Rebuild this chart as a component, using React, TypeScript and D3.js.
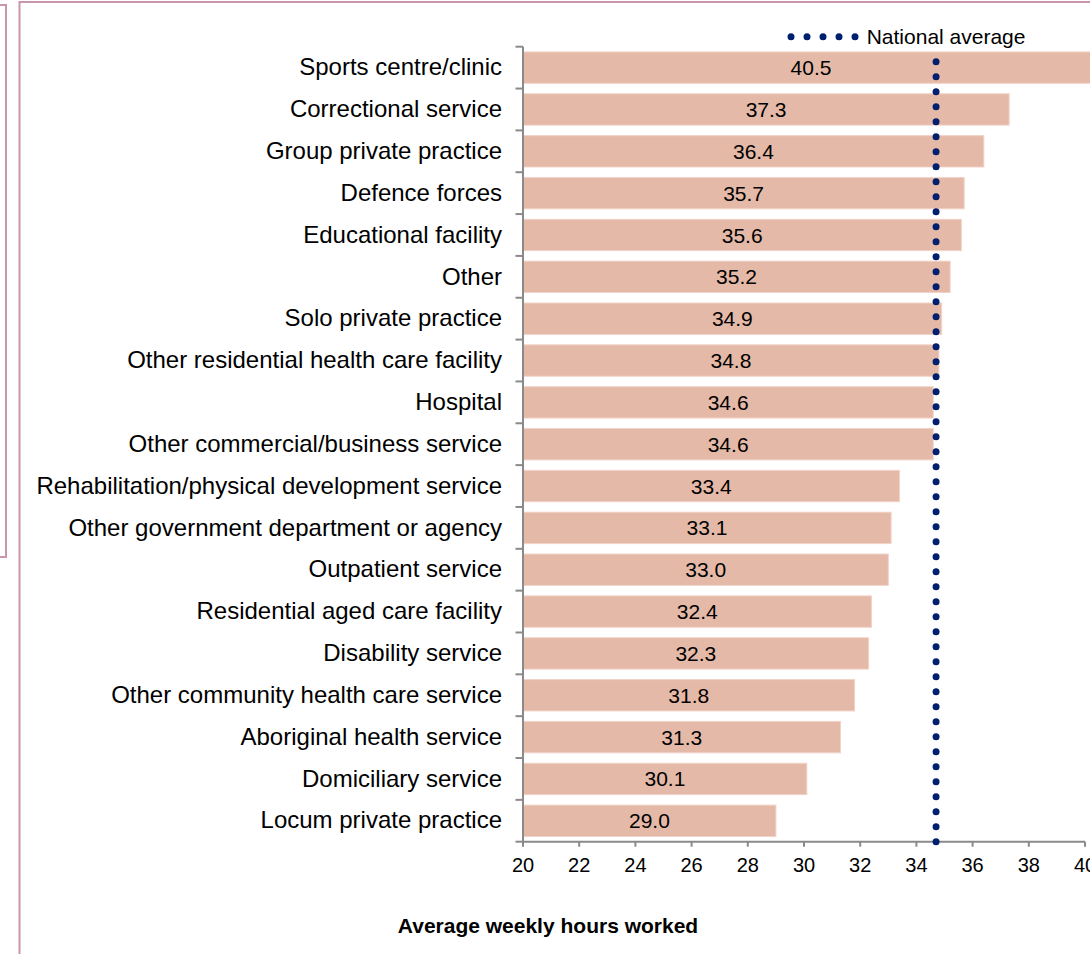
import React from "react";
import * as d3 from "d3";

const categories = [
  "Sports centre/clinic",
  "Correctional service",
  "Group private practice",
  "Defence forces",
  "Educational facility",
  "Other",
  "Solo private practice",
  "Other residential health care facility",
  "Hospital",
  "Other commercial/business service",
  "Rehabilitation/physical development service",
  "Other government department or agency",
  "Outpatient service",
  "Residential aged care facility",
  "Disability service",
  "Other community health care service",
  "Aboriginal health service",
  "Domiciliary service",
  "Locum private practice",
];
const hours = [40.5, 37.3, 36.4, 35.7, 35.6, 35.2, 34.9, 34.8, 34.6, 34.6, 33.4, 33.1, 33.0, 32.4, 32.3, 31.8, 31.3, 30.1, 29.0];
const nationalAverage = 34.7;
const xTicks = [20, 22, 24, 26, 28, 30, 32, 34, 36, 38, 40];
const legendLabel = "National average";
const axisTitle = "Average weekly hours worked";

const W = 1090;
const H = 954;
const FONT = "'Liberation Sans', Arial, sans-serif";

export default function App() {
  const x = d3.scaleLinear().domain([20, 40]).range([523, 1085]);
  const y = d3.scaleBand<string>().domain(categories).range([46.7, 841.7]).paddingInner(0.25).paddingOuter(0.125);
  const step = y.step();
  const bandTop = 46.7;
  const axisY = 841.7;
  const axisColor = "#8a8a8a";
  const frameColor = "#c897ae";
  const dotColor = "#001f6e";
  const boundaries = d3.range(categories.length + 1).map((i) => bandTop + i * step);
  const avgX = x(nationalAverage);
  const legendDots = [0, 1, 2, 3, 4].map((i) => 791 + i * 16);

  return (
    <svg width={W} height={H} style={{ position: "absolute", left: 0, top: 0, background: "#fff" }} fontFamily={FONT}>
      {/* frames */}
      <polyline points="0,5 6,5 6,557 0,557" fill="none" stroke={frameColor} strokeWidth={2} />
      <polyline points={`1092,2 19.5,2 19.5,${H + 2}`} fill="none" stroke={frameColor} strokeWidth={2} />

      {/* bars */}
      {categories.map((c, i) => (
        <g key={c}>
          <rect
            x={x(20)}
            y={y(c)!}
            width={x(hours[i]) - x(20)}
            height={y.bandwidth()}
            fill="#e5b9a7"
            stroke="#f1d3c7"
            strokeWidth={1}
          />
          <text
            x={(x(20) + x(hours[i])) / 2}
            y={y(c)! + y.bandwidth() / 2}
            dy="0.36em"
            textAnchor="middle"
            fontSize={21}
            fill="#000"
          >
            {hours[i].toFixed(1)}
          </text>
          <text
            x={502}
            y={y(c)! + y.bandwidth() / 2}
            dy="0.32em"
            textAnchor="end"
            fontSize={24}
            fill="#000"
          >
            {c}
          </text>
        </g>
      ))}

      {/* y axis */}
      <line x1={x(20)} x2={x(20)} y1={bandTop} y2={axisY} stroke={axisColor} strokeWidth={2} />
      {boundaries.map((b, i) => (
        <line key={i} x1={515.5} x2={x(20)} y1={b} y2={b} stroke={axisColor} strokeWidth={2} />
      ))}

      {/* x axis */}
      <line x1={x(20)} x2={x(40)} y1={axisY} y2={axisY} stroke={axisColor} strokeWidth={2} />
      {xTicks.map((t) => (
        <g key={t}>
          <line x1={x(t)} x2={x(t)} y1={axisY} y2={axisY + 5} stroke={axisColor} strokeWidth={2} />
          <text x={x(t)} y={871.7} textAnchor="middle" fontSize={20} fill="#000">
            {t}
          </text>
        </g>
      ))}

      {/* national average dotted line */}
      <line
        x1={avgX}
        x2={avgX}
        y1={axisY}
        y2={50}
        stroke={dotColor}
        strokeWidth={7}
        strokeLinecap="round"
        strokeDasharray="0 15"
      />

      {/* legend */}
      {legendDots.map((lx) => (
        <circle key={lx} cx={lx} cy={36.7} r={3.5} fill={dotColor} />
      ))}
      <text x={866.7} y={44} fontSize={21} fill="#000">
        {legendLabel}
      </text>

      {/* axis title */}
      <text x={548} y={933} textAnchor="middle" fontSize={21} fontWeight="bold" fill="#000">
        {axisTitle}
      </text>
    </svg>
  );
}
